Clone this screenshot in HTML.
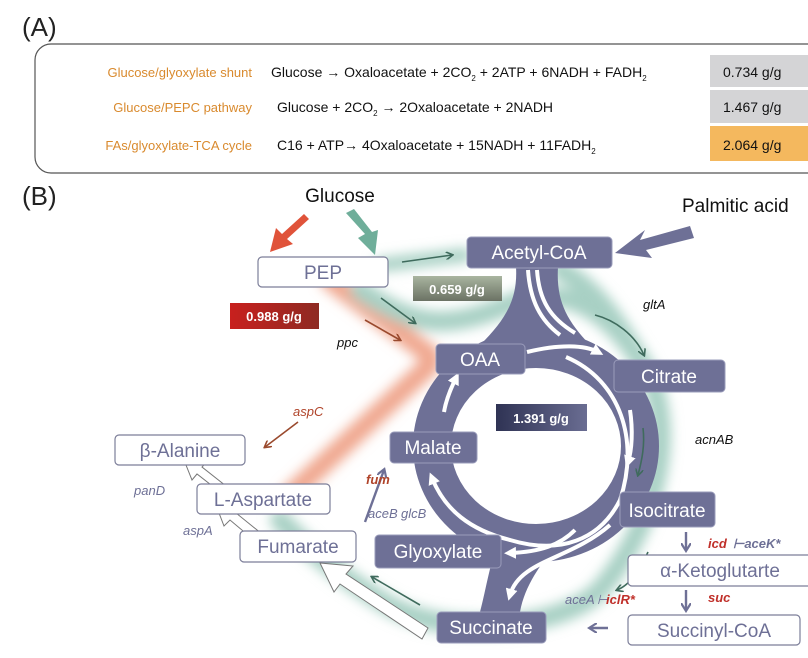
<!DOCTYPE html>
<html><head><meta charset="utf-8"><style>
html,body{margin:0;padding:0;background:#fff;}
svg{display:block;font-family:"Liberation Sans",sans-serif;}
</style></head><body>
<svg width="808" height="658" viewBox="0 0 808 658" xmlns="http://www.w3.org/2000/svg">
<defs>
<filter id="blur" x="-20%" y="-20%" width="140%" height="140%"><feGaussianBlur stdDeviation="6"/></filter>
<linearGradient id="gR" x1="0" x2="1"><stop offset="0" stop-color="#c8201e"/><stop offset="1" stop-color="#8e2a22"/></linearGradient>
<linearGradient id="gG" x1="0" x2="0" y1="0" y2="1"><stop offset="0" stop-color="#a9b5a0"/><stop offset="1" stop-color="#6b7264"/></linearGradient>
<linearGradient id="gN" x1="0" x2="1"><stop offset="0" stop-color="#2f3354"/><stop offset="1" stop-color="#6a6d92"/></linearGradient>
<marker id="ag" markerWidth="8" markerHeight="8" refX="6" refY="4" orient="auto" markerUnits="userSpaceOnUse"><path d="M0,0 L7,4 L0,8" fill="none" stroke="#3f6b5d" stroke-width="1.6"/></marker>
<marker id="ab" markerWidth="8" markerHeight="8" refX="6" refY="4" orient="auto" markerUnits="userSpaceOnUse"><path d="M0,0 L7,4 L0,8" fill="none" stroke="#9a4a2e" stroke-width="1.6"/></marker>
<marker id="ap" markerWidth="10" markerHeight="10" refX="7" refY="5" orient="auto" markerUnits="userSpaceOnUse"><path d="M0,0 L8,5 L0,10" fill="none" stroke="#6e7096" stroke-width="2.2"/></marker>
<marker id="aw" markerWidth="12" markerHeight="12" refX="6" refY="6" orient="auto" markerUnits="userSpaceOnUse"><path d="M0,0 L12,6 L0,12 Z" fill="#fff"/></marker>
</defs>

<!-- Panel A -->
<text x="22" y="36" font-size="26" fill="#222">(A)</text>
<rect x="35" y="44" width="800" height="129" rx="16" fill="#fff" stroke="#555" stroke-width="1.2"/>
<rect x="710" y="55" width="100" height="32" fill="#d4d4d6"/>
<rect x="710" y="90" width="100" height="33" fill="#d4d4d6"/>
<rect x="710" y="126" width="100" height="35" fill="#f4b85e"/>
<g font-size="13" fill="#d98a2e" text-anchor="end">
<text x="252" y="77">Glucose/glyoxylate shunt</text>
<text x="252" y="112">Glucose/PEPC pathway</text>
<text x="252" y="150">FAs/glyoxylate-TCA cycle</text>
</g>
<g font-size="14" fill="#111">
<text x="271" y="77">Glucose → Oxaloacetate + 2CO<tspan font-size="8" dy="4">2</tspan><tspan dy="-4"> + 2ATP + 6NADH + FADH</tspan><tspan font-size="8" dy="4">2</tspan></text>
<text x="277" y="112">Glucose + 2CO<tspan font-size="8" dy="4">2</tspan><tspan dy="-4">  → 2Oxaloacetate + 2NADH</tspan></text>
<text x="277" y="150">C16 + ATP→ 4Oxaloacetate + 15NADH + 11FADH<tspan font-size="8" dy="4">2</tspan></text>
<text x="723" y="77">0.734 g/g</text>
<text x="723" y="112">1.467 g/g</text>
<text x="723" y="150">2.064 g/g</text>
</g>

<!-- Panel B -->
<text x="22" y="205" font-size="26" fill="#222">(B)</text>
<text x="340" y="202" font-size="19" fill="#111" text-anchor="middle">Glucose</text>
<text x="682" y="212" font-size="19" fill="#111">Palmitic acid</text>

<!-- glows -->
<g filter="url(#blur)" fill="none" stroke-linecap="round">
<path d="M330,280 L430,355" stroke="#f0a890" stroke-width="20"/>
<path d="M430,365 L290,495" stroke="#f0a890" stroke-width="20"/>
<path d="M380,265 L465,255" stroke="#a8d0c4" stroke-width="14"/>
<path d="M360,290 C420,330 450,330 520,300 C560,290 600,300 640,360 C680,420 660,520 600,590 C560,630 440,640 380,600 C330,570 300,540 280,520" stroke="#a8d0c4" stroke-width="20"/>
<path d="M560,270 C600,290 620,330 640,360" stroke="#a8d0c4" stroke-width="20"/>
</g>

<!-- ring -->
<ellipse cx="536" cy="446" rx="104" ry="97" fill="none" stroke="#6e7096" stroke-width="38"/>
<path d="M516,267 L558,267 C556,300 566,320 590,345 L480,345 C505,320 518,300 516,267 Z" fill="#6e7096"/>
<path d="M505,520 C490,560 486,590 480,612 L520,612 C525,585 540,565 560,540 Z" fill="#6e7096"/>
<g fill="none" stroke="#fff" stroke-width="4">
<path d="M528,270 C530,300 540,320 560,335" />
<path d="M537,270 C539,300 550,318 575,333" />
<path d="M527,352 C560,344 585,345 598,352" marker-end="url(#aw)"/>
<path d="M566,357 C620,380 640,440 620,500 C600,540 560,555 510,540 C470,530 445,510 432,478" marker-end="url(#aw)"/>
<path d="M630,410 C633,430 632,450 628,462" marker-end="url(#aw)"/>
<path d="M575,530 C560,545 540,552 510,553" marker-end="url(#aw)"/>
<path d="M610,525 C570,560 520,560 510,595" marker-end="url(#aw)"/>
<path d="M444,412 C446,400 450,390 456,378" marker-end="url(#aw)"/>
</g>

<!-- Glucose arrows -->
<path d="M304,214 L282,234 L276,228 L270,252 L293,244 L287,239 L309,219 Z" fill="#e0533a"/>
<path d="M346,213 L365,234 L358,238 L375,255 L378,230 L372,232 L354,209 Z" fill="#6fae9a"/>
<path d="M690,226 L640,240 L645,230 L615,253 L652,258 L646,250 L694,238 Z" fill="#6e7096"/>

<!-- thin arrows -->
<g fill="none" stroke="#3f6b5d" stroke-width="1.6">
<path d="M402,262 L452,255" marker-end="url(#ag)"/>
<path d="M381,298 L415,323" marker-end="url(#ag)"/>
<path d="M595,315 C615,320 635,335 644,355" marker-end="url(#ag)"/>
<path d="M643,428 C645,445 642,460 638,475" marker-end="url(#ag)"/>
<path d="M648,552 C640,570 630,585 617,590" marker-end="url(#ag)"/>
<path d="M420,605 L372,577" marker-end="url(#ag)"/>
</g>
<g fill="none" stroke="#9a4a2e" stroke-width="1.6">
<path d="M365,320 L400,340" marker-end="url(#ab)"/>
<path d="M298,422 L265,447" marker-end="url(#ab)"/>
</g>
<g fill="none" stroke="#6e7096" stroke-width="2.4">
<path d="M365,522 L384,470" marker-end="url(#ap)"/>
<path d="M686,532 L686,550" marker-end="url(#ap)"/>
<path d="M686,590 L686,610" marker-end="url(#ap)"/>
<path d="M608,628 L590,628" marker-end="url(#ap)"/>
</g>

<!-- hollow big arrows -->
<g fill="#fff" stroke="#777" stroke-width="1">
<path d="M428,628 L346,574 L353,566 L320,563 L334,592 L340,584 L422,639 Z"/>
<path d="M262,534 L236,513 L243,505 L214,500 L224,526 L230,520 L255,541 Z"/>
<path d="M226,486 L202,467 L209,459 L182,455 L192,480 L197,474 L220,492 Z"/>
</g>

<!-- value labels -->
<rect x="230" y="303" width="89" height="26" fill="url(#gR)"/>
<text x="274" y="321" font-size="13" font-weight="bold" fill="#fff" text-anchor="middle">0.988 g/g</text>
<rect x="413" y="276" width="89" height="25" fill="url(#gG)"/>
<text x="457" y="294" font-size="13" font-weight="bold" fill="#fff" text-anchor="middle">0.659 g/g</text>
<rect x="496" y="404" width="91" height="27" fill="url(#gN)"/>
<text x="541" y="423" font-size="13" font-weight="bold" fill="#fff" text-anchor="middle">1.391 g/g</text>

<!-- filled nodes -->
<g fill="#6e7096" stroke="#9a9cbb" stroke-width="1">
<rect x="467" y="237" width="145" height="31" rx="4"/>
<rect x="436" y="344" width="89" height="30" rx="4"/>
<rect x="614" y="360" width="111" height="32" rx="4"/>
<rect x="390" y="432" width="87" height="31" rx="4"/>
<rect x="620" y="492" width="95" height="35" rx="4"/>
<rect x="375" y="535" width="126" height="33" rx="4"/>
<rect x="437" y="612" width="109" height="31" rx="4"/>
</g>
<g font-size="19" fill="#fff" text-anchor="middle">
<text x="539" y="259">Acetyl-CoA</text>
<text x="480" y="366">OAA</text>
<text x="669" y="383">Citrate</text>
<text x="433" y="454">Malate</text>
<text x="667" y="517">Isocitrate</text>
<text x="438" y="558">Glyoxylate</text>
<text x="491" y="634">Succinate</text>
</g>

<!-- outline nodes -->
<g fill="#fff" stroke="#7c7e99" stroke-width="1.2">
<rect x="258" y="257" width="130" height="30" rx="4"/>
<rect x="115" y="435" width="130" height="30" rx="4"/>
<rect x="197" y="484" width="133" height="30" rx="4"/>
<rect x="240" y="531" width="116" height="31" rx="4"/>
<rect x="628" y="555" width="185" height="31" rx="4"/>
<rect x="628" y="615" width="172" height="30" rx="4"/>
</g>
<g font-size="19" fill="#6e7096" text-anchor="middle">
<text x="323" y="279">PEP</text>
<text x="180" y="457">β-Alanine</text>
<text x="263" y="506">L-Aspartate</text>
<text x="298" y="553">Fumarate</text>
<text x="720" y="577">α-Ketoglutarte</text>
<text x="714" y="637">Succinyl-CoA</text>
</g>

<!-- gene labels -->
<g font-size="13" font-style="italic">
<text x="337" y="347" fill="#111">ppc</text>
<text x="643" y="309" fill="#111">gltA</text>
<text x="695" y="444" fill="#111">acnAB</text>
<text x="293" y="416" fill="#b0442a">aspC</text>
<text x="134" y="495" fill="#6e7096">panD</text>
<text x="183" y="535" fill="#6e7096">aspA</text>
<text x="366" y="484" fill="#b0442a" font-weight="bold">fum</text>
<text x="368" y="518" fill="#6e7096">aceB</text>
<text x="401" y="518" fill="#6e7096">glcB</text>
<text x="708" y="548" fill="#c0302a" font-weight="bold">icd</text>
<text x="733" y="548" fill="#6e7096" font-weight="bold">⊢aceK*</text>
<text x="708" y="602" fill="#c0302a" font-weight="bold">suc</text>
<text x="565" y="604" fill="#6e7096">aceA</text>
<text x="597" y="604" fill="#6e7096">⊢</text><text x="606" y="604" fill="#c0302a" font-weight="bold">iclR*</text>
</g>
</svg>
</body></html>
